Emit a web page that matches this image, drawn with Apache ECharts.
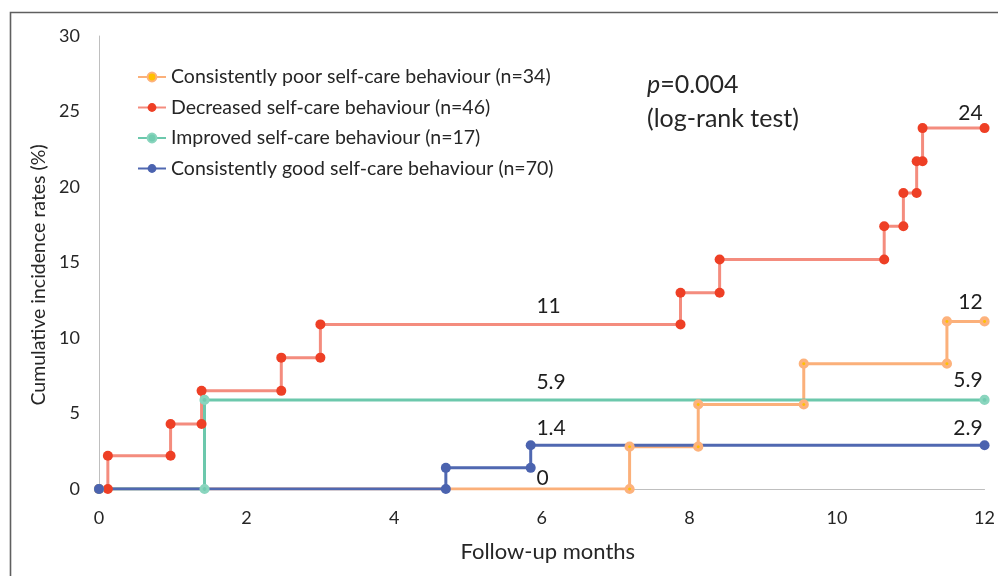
<!DOCTYPE html>
<html>
<head>
<meta charset="utf-8">
<script src="https://cdn.jsdelivr.net/npm/echarts@6/dist/echarts.min.js"></script>
<style>
html,body{margin:0;padding:0;background:#fff;}
#chart{width:998px;height:576px;}
</style>
</head>
<body>
<div id="chart"></div>
<script>
// ---- Data ----
const seriesNames = [
  'Consistently poor self-care behaviour (n=34)',
  'Decreased self-care behaviour (n=46)',
  'Improved self-care behaviour (n=17)',
  'Consistently good self-care behaviour (n=70)'
];
// event times (months) and cumulative incidence (%) after each event
const poorTimes = [0, 7.19, 8.12, 9.55, 11.49, 12];
const poorRates = [0, 2.8, 5.6, 8.3, 11.1, 11.1];

const decreasedTimes = [0, 0.12, 0.97, 1.39, 2.47, 3.0, 7.88, 8.41, 10.64, 10.9, 11.08, 11.16, 12];
const decreasedRates = [0, 2.2, 4.3, 6.5, 8.7, 10.9, 13.0, 15.2, 17.4, 19.6, 21.7, 23.9, 23.9];

const improvedTimes = [0, 1.43, 12];
const improvedRates = [0, 5.9, 5.9];

const goodTimes = [0, 4.7, 5.85, 12];
const goodRates = [0, 1.4, 2.9, 2.9];

const xTicks = [0, 2, 4, 6, 8, 10, 12];
const yTicks = [0, 5, 10, 15, 20, 25, 30];

// value annotations
const midLabels = ['11', '5.9', '1.4', '0'];
const midLabelX = [5.92, 5.92, 5.92, 5.92];
const midLabelY = [12.1, 7.1, 4.05, 0.72];
const endLabels = ['24', '12', '5.9', '2.9'];
const endLabelX = [11.98, 11.98, 11.98, 11.98];
const endLabelY = [24.9, 12.4, 7.2, 4.05];

// ---- Build step (Kaplan-Meier) points ----
function stepPoints(times, rates) {
  const pts = [[times[0], rates[0]]];
  for (let i = 1; i < times.length; i++) {
    if (rates[i] === rates[i - 1]) {
      pts.push([times[i], rates[i]]);
    } else {
      pts.push([times[i], rates[i - 1]]);
      pts.push([times[i], rates[i]]);
    }
  }
  return pts;
}

const FONT = 'Lato, "Open Sans", sans-serif';
const TXT = '#262626';

function lineSeries(name, times, rates, lineColor, itemStyle, symbolSize) {
  return {
    name: name,
    type: 'line',
    data: stepPoints(times, rates),
    symbol: 'circle',
    symbolSize: symbolSize,
    showAllSymbol: true,
    lineStyle: { color: lineColor, width: 3 },
    itemStyle: itemStyle,
    color: lineColor,
    silent: true,
    animation: false,
    emphasis: { disabled: true }
  };
}

function labelSeries(name, texts, xs, ys, pos) {
  return {
    name: name,
    type: 'scatter',
    symbol: 'circle',
    symbolSize: 1,
    itemStyle: { color: '#ffffff', opacity: 0 },
    silent: true,
    animation: false,
    data: texts.map((t, i) => ({ value: [xs[i], ys[i]], name: t })),
    label: {
      show: true, position: pos, distance: 0, opacity: 1,
      formatter: p => p.name, fontSize: 21, color: '#1e1e1e', fontFamily: FONT
    },
    z: 5
  };
}

const chart = echarts.init(document.getElementById('chart'), null, { renderer: 'canvas' });

const option = {
  animation: false,
  backgroundColor: '#ffffff',
  textStyle: { fontFamily: FONT },
  grid: { left: 99, right: 10, top: 36, bottom: 87, containLabel: false },
  legend: {
    data: seriesNames,
    orient: 'vertical',
    left: 137,
    top: 67,
    padding: 0,
    itemGap: 10.5,
    itemWidth: 28,
    itemHeight: 11,
    textStyle: { fontSize: 19.5, color: TXT, fontFamily: FONT },
    selectedMode: false
  },
  xAxis: {
    type: 'value',
    min: xTicks[0],
    max: xTicks[xTicks.length - 1],
    interval: xTicks[1] - xTicks[0],
    name: 'Follow-up months',
    nameLocation: 'middle',
    nameGap: 52,
    nameTextStyle: { fontSize: 22, color: TXT, fontFamily: FONT, padding: [0, 0, 0, 12] },
    axisLine: { show: true, lineStyle: { color: '#BFBFBF', width: 1 } },
    axisTick: { show: false },
    splitLine: { show: false },
    axisLabel: { fontSize: 18, color: TXT, margin: 20, fontFamily: FONT }
  },
  yAxis: {
    type: 'value',
    min: yTicks[0],
    max: yTicks[yTicks.length - 1],
    interval: yTicks[1] - yTicks[0],
    axisLine: { show: true, lineStyle: { color: '#BFBFBF', width: 1 } },
    axisTick: { show: false },
    splitLine: { show: false },
    axisLabel: { fontSize: 18, color: TXT, margin: 19, fontFamily: FONT }
  },
  graphic: [
    {
      type: 'rect',
      silent: true,
      shape: { x: 10.5, y: 12.5, width: 1000, height: 600 },
      style: { fill: 'none', stroke: '#5f5f5f', lineWidth: 1.6 }
    },
    {
      type: 'text',
      silent: true,
      x: 39,
      y: 275,
      rotation: Math.PI / 2,
      style: {
        text: 'Cumulative incidence rates (%)',
        fontSize: 19.5,
        fill: TXT,
        fontFamily: FONT,
        align: 'center',
        verticalAlign: 'middle'
      }
    },
    {
      type: 'text',
      left: 647,
      top: 68,
      silent: true,
      style: {
        text: '{i|p}=0.004\n(log-rank test)',
        fontSize: 25,
        lineHeight: 34,
        fill: TXT,
        fontFamily: FONT,
        rich: { i: { fontStyle: 'italic', fontSize: 25, lineHeight: 34, fontFamily: FONT, fill: TXT } }
      }
    }
  ],
  series: [
    lineSeries(seriesNames[0], poorTimes, poorRates, '#FBB07A',
      { color: '#FFC000', borderColor: '#FDB27C', borderWidth: 3.6 }, 6.6),
    lineSeries(seriesNames[1], decreasedTimes, decreasedRates, '#F48C7E',
      { color: '#EE3F25' }, 10),
    lineSeries(seriesNames[2], improvedTimes, improvedRates, '#6CC8AC',
      { color: '#72CCB0', borderColor: '#8AD5BE', borderWidth: 3.2 }, 7),
    lineSeries(seriesNames[3], goodTimes, goodRates, '#5068B1',
      { color: '#4B63AF' }, 10),
    labelSeries('midLabels', midLabels, midLabelX, midLabelY, 'right'),
    labelSeries('endLabels', endLabels, endLabelX, endLabelY, 'left')
  ]
};

chart.setOption(option);
</script>
</body>
</html>
